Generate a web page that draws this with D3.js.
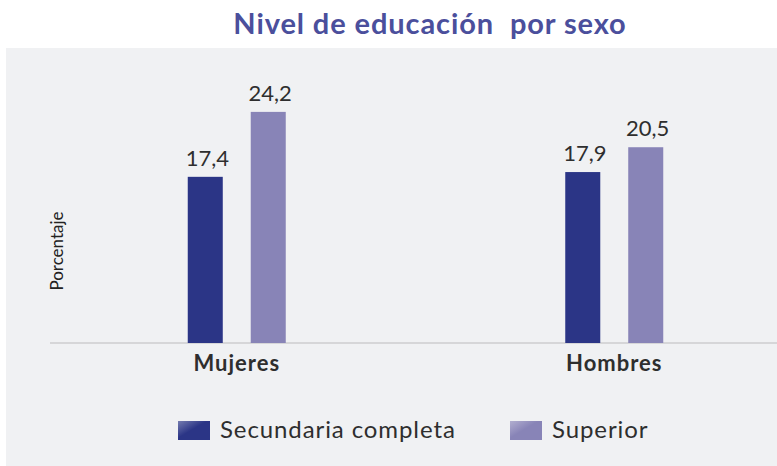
<!DOCTYPE html>
<html>
<head>
<meta charset="utf-8">
<script src="https://cdn.jsdelivr.net/npm/d3@7"></script>
<style>
  body { margin: 0; background: #fff; }
  text { font-family: Lato, "Noto Sans", sans-serif; }
</style>
</head>
<body>
<div id="chart"></div>
<script>
// chart data
var categories = ["Mujeres", "Hombres"];
var seriesNames = ["Secundaria completa", "Superior"];
var secundaria = [17.4, 17.9];
var superior = [24.2, 20.5];
var valueLabels = [["17,4", "24,2"], ["17,9", "20,5"]];

var svgWidth = 777;
var svgHeight = 466;
var colors = ["#2b3586", "#8884b7"];

var svg = d3.select("#chart")
  .append("svg")
  .attr("width", svgWidth)
  .attr("height", svgHeight);

var defs = svg.append("defs");
// legend swatches have a soft highlight in the top-left corner
colors.forEach(function(c, i) {
  var g = defs.append("linearGradient")
    .attr("id", "sw" + i)
    .attr("x1", "0").attr("y1", "0")
    .attr("x2", "1").attr("y2", "1");
  g.append("stop").attr("offset", "0").attr("stop-color", d3.interpolateRgb(c, "#fff")(0.35));
  g.append("stop").attr("offset", "0.45").attr("stop-color", c);
  g.append("stop").attr("offset", "1").attr("stop-color", c);
});

// grey panel
svg.append("rect")
  .attr("x", 6)
  .attr("y", 48)
  .attr("width", svgWidth - 6)
  .attr("height", svgHeight - 48)
  .attr("fill", "#f0f1f3");

// title
svg.append("text")
  .attr("x", 430)
  .attr("y", 34)
  .attr("text-anchor", "middle")
  .attr("font-size", 29)
  .attr("font-weight", 700)
  .attr("letter-spacing", 0.9)
  .attr("fill", "#4b4f9c")
  .attr("xml:space", "preserve")
  .text("Nivel de educación  por sexo");

var baseY = 343;

var x0 = d3.scaleBand()
  .domain(categories)
  .range([48, 803]);

var x1 = d3.scaleBand()
  .domain(seriesNames)
  .range([-49, 49])
  .paddingInner(0.444);

var y = d3.scaleLinear()
  .domain([0, 30])
  .range([baseY, baseY - 30 * 9.55]);

// axis line
var xAxis = d3.axisBottom(x0).tickSize(0).tickFormat("");
var axisG = svg.append("g")
  .attr("transform", `translate(0, ${baseY})`)
  .call(xAxis);
axisG.select(".domain").remove();
axisG.append("line")
  .attr("x1", 50).attr("x2", svgWidth)
  .attr("y1", 0).attr("y2", 0)
  .attr("stroke", "#d6d6d8")
  .attr("stroke-width", 2);

var rows = categories.map(function(c, i) {
  return {
    cat: c,
    values: [
      { key: seriesNames[0], value: secundaria[i], label: valueLabels[i][0], color: colors[0] },
      { key: seriesNames[1], value: superior[i], label: valueLabels[i][1], color: colors[1] }
    ]
  };
});

var groups = svg.selectAll(".grp")
  .data(rows)
  .enter()
  .append("g")
  .attr("class", "grp")
  .attr("transform", d => `translate(${x0(d.cat) + x0.bandwidth() / 2}, 0)`);

groups.selectAll("rect")
  .data(d => d.values)
  .enter()
  .append("rect")
  .attr("x", d => x1(d.key))
  .attr("y", d => y(d.value))
  .attr("width", x1.bandwidth())
  .attr("height", d => y(0) - y(d.value))
  .attr("fill", d => d.color);

groups.selectAll(".val")
  .data(d => d.values)
  .enter()
  .append("text")
  .attr("class", "val")
  .attr("x", d => x1(d.key) + x1.bandwidth() / 2 + 2)
  .attr("y", d => y(d.value) - 11)
  .attr("text-anchor", "middle")
  .attr("font-size", 22)
  .attr("fill", "#2e2e2e")
  .text(d => d.label);

// category labels
groups.append("text")
  .attr("x", 0)
  .attr("y", 371)
  .attr("text-anchor", "middle")
  .attr("font-size", 22)
  .attr("font-weight", 700)
  .attr("letter-spacing", 1)
  .attr("fill", "#2e2e2e")
  .text(d => d.cat);

// y axis title
svg.append("text")
  .attr("transform", "translate(63, 251) rotate(-90)")
  .attr("text-anchor", "middle")
  .attr("font-size", 17)
  .attr("fill", "#222")
  .text("Porcentaje");

// legend
var legendX = [178, 510];
var legend = svg.selectAll(".leg")
  .data(seriesNames)
  .enter()
  .append("g")
  .attr("class", "leg")
  .attr("transform", (d, i) => `translate(${legendX[i]}, 421)`);

legend.append("rect")
  .attr("width", 32)
  .attr("height", 19)
  .attr("fill", (d, i) => `url(#sw${i})`);

legend.append("text")
  .attr("x", 42)
  .attr("y", 17)
  .attr("font-size", 24)
  .attr("letter-spacing", 0.9)
  .attr("fill", "#2e2e2e")
  .text(d => d);
</script>
</body>
</html>
